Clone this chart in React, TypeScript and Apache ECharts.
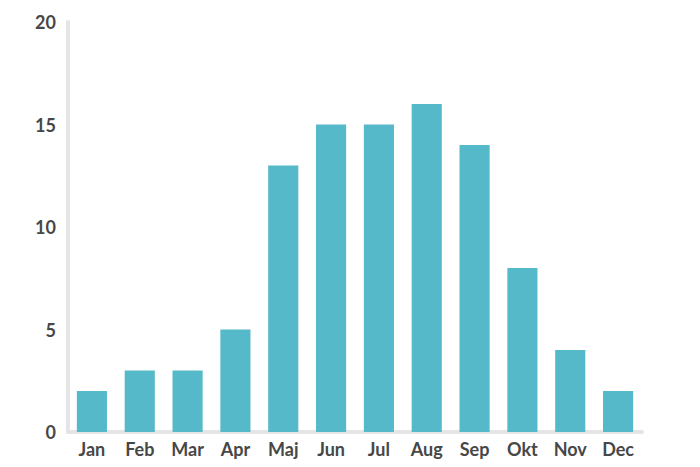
import React, { useEffect, useRef } from "react";
import * as echarts from "echarts";

const categories = ["Jan", "Feb", "Mar", "Apr", "Maj", "Jun", "Jul", "Aug", "Sep", "Okt", "Nov", "Dec"];
const values = [2, 3, 3, 5, 13, 15, 15, 16, 14, 8, 4, 2];
const yTicks = { min: 0, max: 20, interval: 5 };

export default function App() {
  const ref = useRef<HTMLDivElement>(null);
  useEffect(() => {
    if (!ref.current) return;
    const chart = echarts.init(ref.current, null, { renderer: "svg" });
    const labelStyle = { color: "#474747", fontSize: 18, fontWeight: "bold" as const, fontFamily: "Lato, 'DejaVu Sans', sans-serif" };
    chart.setOption({
      animation: false,
      grid: { left: 68, right: 58, top: 22, bottom: 35, containLabel: false },
      xAxis: {
        type: "category",
        data: categories,
        axisLine: { show: true, lineStyle: { color: "#e5e5e5", width: 4 } },
        axisTick: { show: false },
        axisLabel: { ...labelStyle, margin: 8 },
      },
      yAxis: {
        type: "value",
        min: yTicks.min,
        max: yTicks.max,
        interval: yTicks.interval,
        axisLine: { show: true, lineStyle: { color: "#e5e5e5", width: 4 } },
        axisTick: { show: false },
        splitLine: { show: false },
        axisLabel: { ...labelStyle, margin: 12 },
      },
      series: [
        {
          type: "bar",
          data: values,
          barWidth: "63%",
          itemStyle: { color: "#56b9c9" },
        },
      ],
    });
    return () => chart.dispose();
  }, []);
  return <div ref={ref} style={{ position: "absolute", left: 0, top: 0, width: 700, height: 467 }} />;
}
